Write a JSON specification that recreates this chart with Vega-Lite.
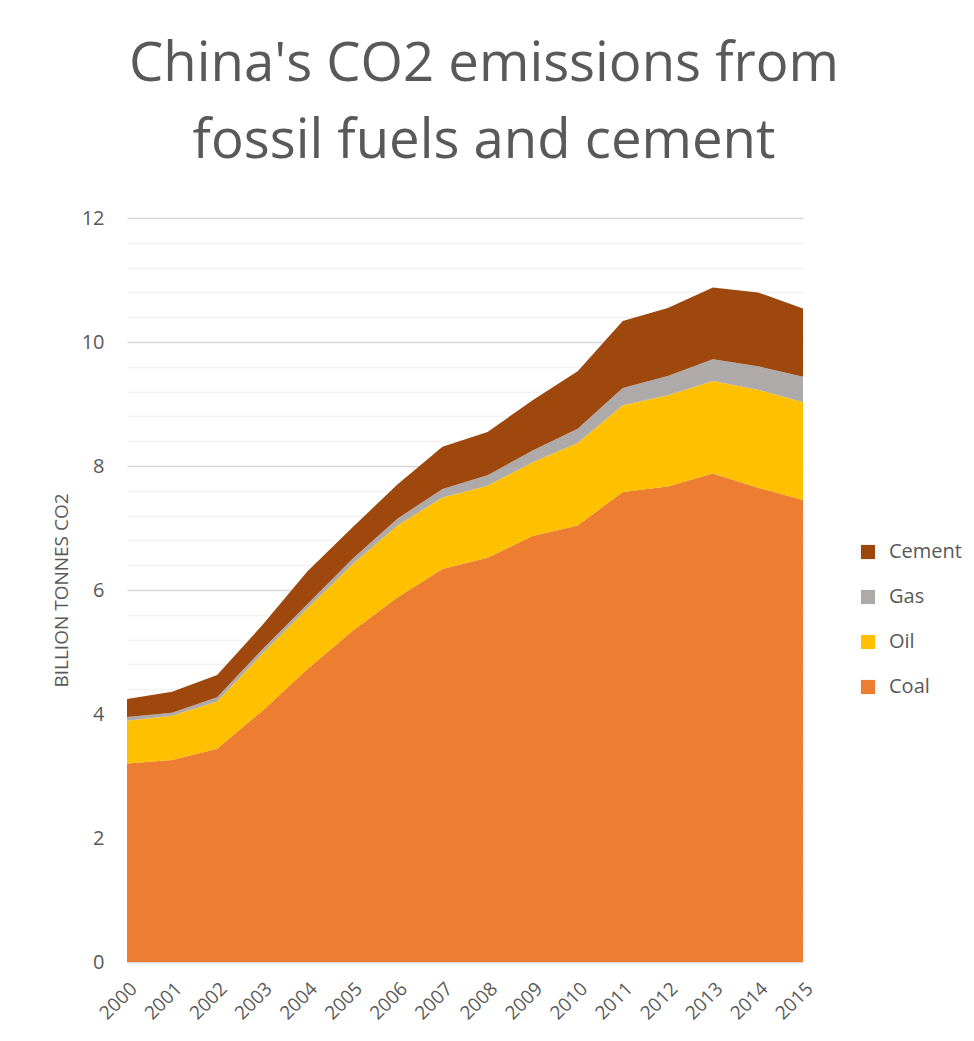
{
  "$schema": "https://vega.github.io/schema/vega-lite/v6.json",
  "width": 676,
  "height": 744,
  "padding": {"left": 52, "top": 36, "right": 5, "bottom": 5},
  "background": "white",
  "title": {
    "text": ["China's CO2 emissions from", "fossil fuels and cement"],
    "fontSize": 54.5,
    "font": "Open Sans",
    "fontWeight": "normal",
    "color": "#595959",
    "lineHeight": 77,
    "anchor": "middle",
    "frame": "group",
    "dx": 19,
    "offset": 39
  },
  "data": {
    "values": [
      {"year": 2000, "source": "Coal", "value": 3.20},
      {"year": 2000, "source": "Oil", "value": 0.69},
      {"year": 2000, "source": "Gas", "value": 0.06},
      {"year": 2000, "source": "Cement", "value": 0.29},
      {"year": 2001, "source": "Coal", "value": 3.26},
      {"year": 2001, "source": "Oil", "value": 0.71},
      {"year": 2001, "source": "Gas", "value": 0.05},
      {"year": 2001, "source": "Cement", "value": 0.34},
      {"year": 2002, "source": "Coal", "value": 3.44},
      {"year": 2002, "source": "Oil", "value": 0.76},
      {"year": 2002, "source": "Gas", "value": 0.07},
      {"year": 2002, "source": "Cement", "value": 0.36},
      {"year": 2003, "source": "Coal", "value": 4.05},
      {"year": 2003, "source": "Oil", "value": 0.92},
      {"year": 2003, "source": "Gas", "value": 0.07},
      {"year": 2003, "source": "Cement", "value": 0.39},
      {"year": 2004, "source": "Coal", "value": 4.72},
      {"year": 2004, "source": "Oil", "value": 0.98},
      {"year": 2004, "source": "Gas", "value": 0.07},
      {"year": 2004, "source": "Cement", "value": 0.53},
      {"year": 2005, "source": "Coal", "value": 5.34},
      {"year": 2005, "source": "Oil", "value": 1.07},
      {"year": 2005, "source": "Gas", "value": 0.09},
      {"year": 2005, "source": "Cement", "value": 0.51},
      {"year": 2006, "source": "Coal", "value": 5.88},
      {"year": 2006, "source": "Oil", "value": 1.16},
      {"year": 2006, "source": "Gas", "value": 0.11},
      {"year": 2006, "source": "Cement", "value": 0.55},
      {"year": 2007, "source": "Coal", "value": 6.34},
      {"year": 2007, "source": "Oil", "value": 1.15},
      {"year": 2007, "source": "Gas", "value": 0.14},
      {"year": 2007, "source": "Cement", "value": 0.68},
      {"year": 2008, "source": "Coal", "value": 6.52},
      {"year": 2008, "source": "Oil", "value": 1.16},
      {"year": 2008, "source": "Gas", "value": 0.17},
      {"year": 2008, "source": "Cement", "value": 0.70},
      {"year": 2009, "source": "Coal", "value": 6.87},
      {"year": 2009, "source": "Oil", "value": 1.19},
      {"year": 2009, "source": "Gas", "value": 0.19},
      {"year": 2009, "source": "Cement", "value": 0.81},
      {"year": 2010, "source": "Coal", "value": 7.04},
      {"year": 2010, "source": "Oil", "value": 1.33},
      {"year": 2010, "source": "Gas", "value": 0.23},
      {"year": 2010, "source": "Cement", "value": 0.93},
      {"year": 2011, "source": "Coal", "value": 7.58},
      {"year": 2011, "source": "Oil", "value": 1.40},
      {"year": 2011, "source": "Gas", "value": 0.28},
      {"year": 2011, "source": "Cement", "value": 1.08},
      {"year": 2012, "source": "Coal", "value": 7.67},
      {"year": 2012, "source": "Oil", "value": 1.47},
      {"year": 2012, "source": "Gas", "value": 0.31},
      {"year": 2012, "source": "Cement", "value": 1.10},
      {"year": 2013, "source": "Coal", "value": 7.88},
      {"year": 2013, "source": "Oil", "value": 1.49},
      {"year": 2013, "source": "Gas", "value": 0.35},
      {"year": 2013, "source": "Cement", "value": 1.16},
      {"year": 2014, "source": "Coal", "value": 7.65},
      {"year": 2014, "source": "Oil", "value": 1.58},
      {"year": 2014, "source": "Gas", "value": 0.38},
      {"year": 2014, "source": "Cement", "value": 1.19},
      {"year": 2015, "source": "Coal", "value": 7.45},
      {"year": 2015, "source": "Oil", "value": 1.58},
      {"year": 2015, "source": "Gas", "value": 0.41},
      {"year": 2015, "source": "Cement", "value": 1.10}
    ]
  },
  "transform": [
    {"calculate": "indexof(['Coal','Oil','Gas','Cement'], datum.source)", "as": "stackOrder"}
  ],
  "mark": {"type": "area", "interpolate": "linear"},
  "encoding": {
    "x": {
      "field": "year",
      "type": "quantitative",
      "scale": {"domain": [2000, 2015], "nice": false, "zero": false},
      "axis": {
        "values": [2000,2001,2002,2003,2004,2005,2006,2007,2008,2009,2010,2011,2012,2013,2014,2015],
        "format": "d",
        "labelAngle": -45,
        "labelFontSize": 19,
        "labelFont": "Open Sans",
        "labelColor": "#595959",
        "labelOverlap": false,
        "labelFlush": false,
        "ticks": false,
        "grid": false,
        "domain": true,
        "domainColor": "#D9D9D9",
        "domainWidth": 1.5,
        "labelPadding": 17,
        "title": null
      }
    },
    "y": {
      "field": "value",
      "type": "quantitative",
      "stack": "zero",
      "scale": {"domain": [0, 12], "nice": false},
      "axis": {
        "values": [0,0.4,0.8,1.2,1.6,2,2.4,2.8,3.2,3.6,4,4.4,4.8,5.2,5.6,6,6.4,6.8,7.2,7.6,8,8.4,8.8,9.2,9.6,10,10.4,10.8,11.2,11.6,12],
        "labelExpr": "datum.value % 2 == 0 ? format(datum.value, 'd') : ''",
        "gridColor": {"condition": {"test": "datum.value % 2 == 0", "value": "#D9D9D9"}, "value": "#F2F2F2"},
        "gridWidth": 1.5,
        "ticks": false,
        "domain": false,
        "labelFontSize": 20,
        "labelFont": "Open Sans",
        "labelColor": "#595959",
        "labelPadding": 23,
        "title": "BILLION TONNES CO2",
        "titleFont": "Open Sans",
        "titleFontSize": 19,
        "titleFontWeight": "normal",
        "titleColor": "#595959",
        "titlePadding": 10
      }
    },
    "color": {
      "field": "source",
      "type": "nominal",
      "scale": {
        "domain": ["Cement", "Gas", "Oil", "Coal"],
        "range": ["#9E480E", "#AEAAAA", "#FFC000", "#ED7D31"]
      },
      "legend": {
        "title": null,
        "orient": "none",
        "legendX": 731,
        "legendY": 324,
        "symbolType": "square",
        "symbolSize": 200,
        "symbolStrokeWidth": 0,
        "labelFont": "Open Sans",
        "labelFontSize": 20,
        "labelColor": "#595959",
        "labelOffset": 11,
        "rowPadding": 25
      }
    },
    "order": {"field": "stackOrder", "type": "quantitative", "sort": "ascending"}
  },
  "config": {
    "view": {"stroke": null}
  }
}
